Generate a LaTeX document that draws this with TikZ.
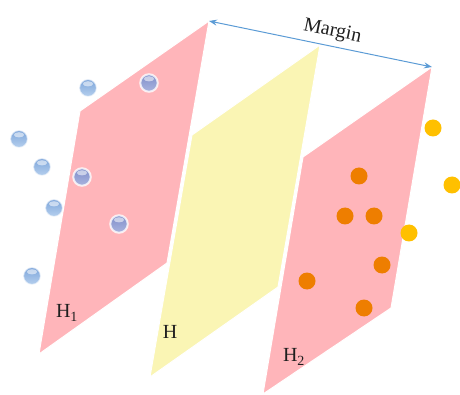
\documentclass[tikz,border=0pt]{standalone}
\usepackage{fontspec}
\setmainfont{Liberation Serif}
\usetikzlibrary{arrows.meta}
\definecolor{pinkplane}{RGB}{255,181,186}
\definecolor{yellowplane}{RGB}{250,245,180}
\definecolor{arrowblue}{RGB}{91,155,213}
\definecolor{btop}{RGB}{125,165,218}
\definecolor{bbot}{RGB}{182,208,238}
\definecolor{ptop}{RGB}{128,143,203}
\definecolor{pbot}{RGB}{170,180,222}
\definecolor{dorange}{RGB}{238,126,0}
\definecolor{ldot}{RGB}{255,192,0}
\begin{document}
\begin{tikzpicture}[x=1pt,y=-1pt,
  plane/.style={draw=white,line width=1pt},
  gloss/.style={path picture={\fill[white,opacity=0.55] ([yshift=4.2pt]path picture bounding box.center) ellipse (5.2pt and 2.6pt);}},
  bball/.style={circle,minimum size=17.5pt,inner sep=0pt,top color=btop,bottom color=bbot,draw=white,draw opacity=0.7,line width=1.5pt,gloss},
  pball/.style={circle,minimum size=17.5pt,inner sep=0pt,top color=ptop,bottom color=pbot,draw=white,draw opacity=0.8,line width=2pt,gloss},
  odot/.style={circle,minimum size=17pt,inner sep=0pt,fill=dorange},
  ydot/.style={circle,minimum size=17pt,inner sep=0pt,fill=ldot},
  lbl/.style={font=\fontsize{20}{24}\selectfont,text=black!88,inner sep=1pt}]
\useasboundingbox (0,0) rectangle (460,395);
% hyperplanes
\fill[yellowplane,plane] (320,45) -- (192,135) -- (150,377) -- (278,287) -- cycle;
\fill[pinkplane,plane] (209,21) -- (80,111) -- (39,354) -- (167,263) -- cycle;
\fill[pinkplane,plane] (432,67) -- (303,157) -- (263,394) -- (391,308) -- cycle;
% margin arrow
\coordinate (t1) at (209,21);
\coordinate (t2) at (432,67);
\draw[arrowblue,line width=1pt,{Stealth[length=8pt,width=6pt]}-{Stealth[length=8pt,width=6pt]}] (t1) -- node[pos=0.54,above=4pt,sloped,lbl] (margin) {Margin} (t2);
% blue class
\node[bball] (b1) at (88,88) {};
\node[pball] (b2) at (149,83) {};
\node[bball] (b3) at (19,139) {};
\node[bball] (b4) at (42,167) {};
\node[pball] (b5) at (82,177) {};
\node[bball] (b6) at (54,208) {};
\node[pball] (b7) at (119,224) {};
\node[bball] (b8) at (32,276) {};
% orange class
\node[odot] (o1) at (359,176) {};
\node[odot] (o2) at (345,216) {};
\node[odot] (o3) at (374,216) {};
\node[odot] (o4) at (382,265) {};
\node[odot] (o5) at (307,281) {};
\node[odot] (o6) at (364,308) {};
\node[ydot] (y1) at (433,128) {};
\node[ydot] (y2) at (452,185) {};
\node[ydot] (y3) at (409,233) {};
% labels
\node[lbl] (h1) at (67,313) {H\textsubscript{1}};
\node[lbl] (h) at (170,332) {H};
\node[lbl] (h2) at (294,357) {H\textsubscript{2}};
\end{tikzpicture}
\end{document}
